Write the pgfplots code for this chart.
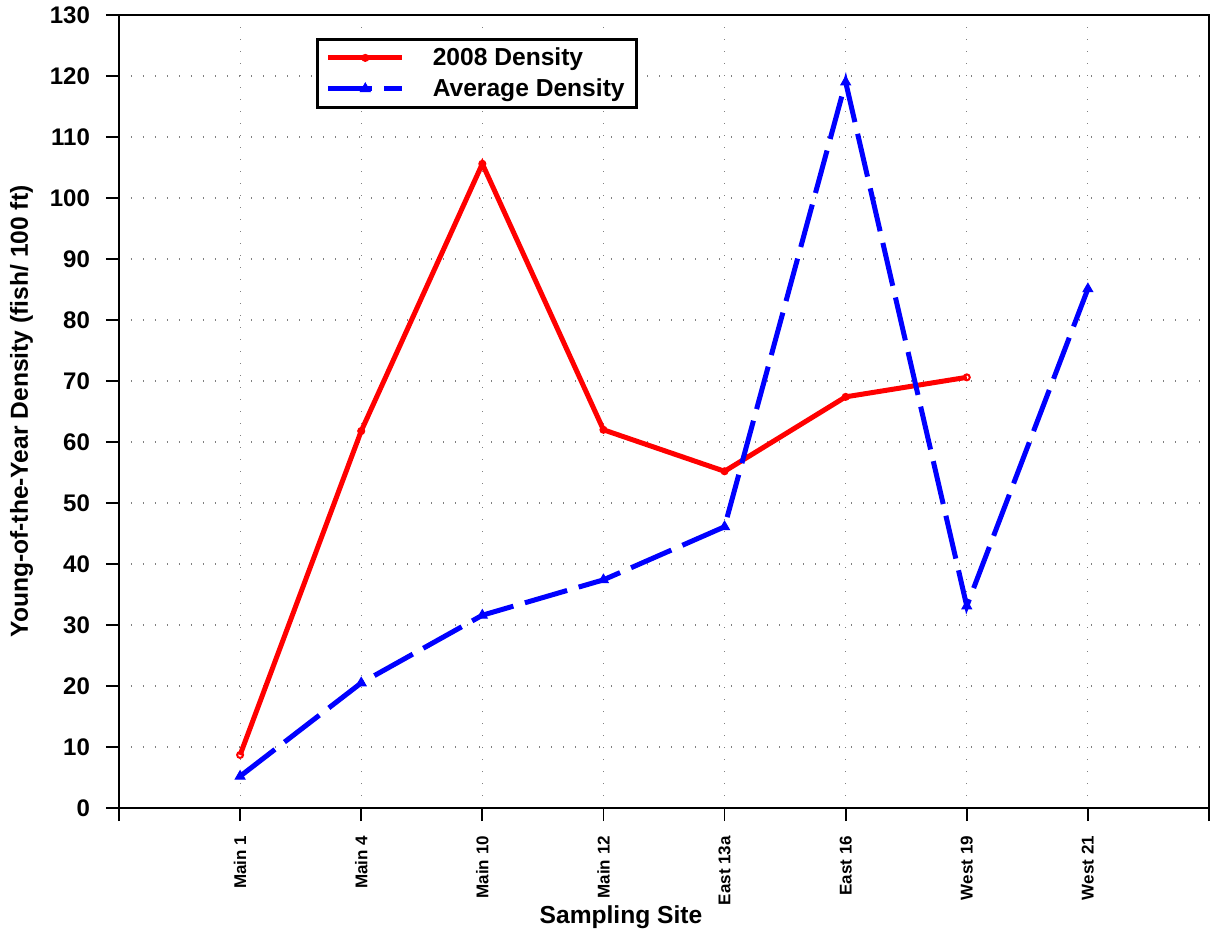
\documentclass[border=0pt]{standalone}
\usepackage{fontspec}
\setmainfont{Liberation Sans}
\usepackage{pgfplots}
\pgfplotsset{compat=1.18}
\begin{document}
\begin{tikzpicture}
\begin{axis}[
  scale only axis,
  width=545pt, height=396.5pt,
  xmin=0, xmax=9, ymin=0, ymax=130,
  xtick={0,...,9},
  xticklabels={,Main 1,Main 4,Main 10,Main 12,East 13a,East 16,West 19,West 21,},
  ytick={0,10,...,130},
  /pgf/number format/assume math mode=true,
  tick align=outside,
  major tick length=6.5pt,
  tick style={black, line width=0.9pt},
  xtick pos=bottom, ytick pos=left,
  axis line style={line width=1.3pt},
  grid=major,
  major grid style={gray, line width=0.6pt, dash pattern=on 0.6pt off 5.4pt},
  xticklabel style={rotate=90, anchor=east, xshift=-4pt, font=\fontsize{8.5}{10}\selectfont\bfseries},
  yticklabel style={xshift=-4.5pt, font=\fontsize{12}{14}\selectfont\bfseries},
  xlabel={Sampling Site},
  ylabel={Young-of-the-Year Density (fish/ 100 ft)},
  label style={font=\fontsize{12.3}{14}\selectfont\bfseries},
  xlabel style={yshift=6.5pt, xshift=-21.5pt},
  ylabel style={yshift=1.5pt},
  legend style={at={(0.181,0.971)}, anchor=north west, draw=black, line width=1.5pt,
    font=\fontsize{12.3}{14}\selectfont\bfseries, inner xsep=4pt, inner ysep=2pt,
    row sep=1pt},
  legend cell align=left,
  legend image code/.code={\draw[#1] (0pt,0pt) -- (37pt,0pt);
    \path[#1, solid] plot coordinates {(18.5pt,0pt)};
    \path (49pt,0pt);},
]
\addplot[red, line width=2.5pt, mark=o, mark size=1.5pt, mark options={solid, line width=1pt}]
coordinates {(1,8.7) (2,61.8) (3,105.6) (4,62.0) (5,55.2) (6,67.4) (7,70.6)};
\addlegendentry{2008 Density}
\addplot[blue, line width=2.5pt, dash pattern=on 22pt off 6pt, mark=triangle*, mark size=2.8pt, mark options={solid, line width=0.5pt}]
coordinates {(1,5.2) (2,20.5) (3,31.6) (4,37.4) (5,46.1) (6,119.0) (7,33.1) (8,85.1)};
\addlegendentry{Average Density}
\end{axis}
\pgfresetboundingbox
\path ([shift={(-59.5pt,-63.5pt)}]current axis.south west) rectangle ([shift={(1.5pt,7.5pt)}]current axis.north east);
\end{tikzpicture}
\end{document}
